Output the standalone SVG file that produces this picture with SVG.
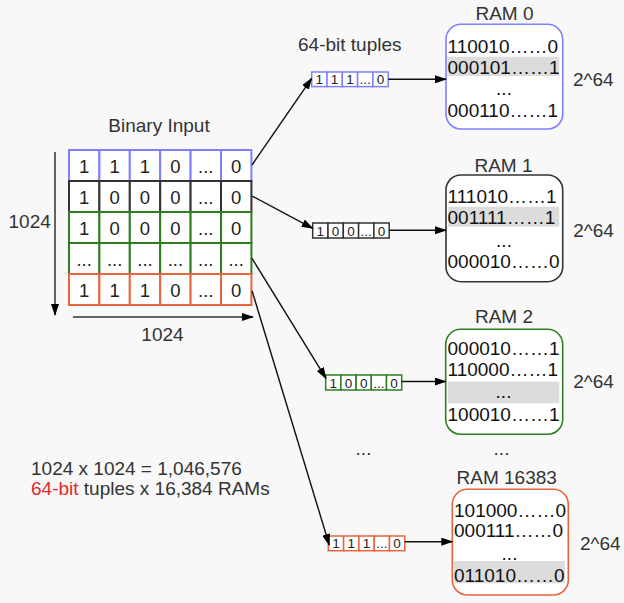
<svg xmlns="http://www.w3.org/2000/svg" width="624" height="603" viewBox="0 0 624 603">
<defs>
<style>
text{font-family:"Liberation Sans",Arial,sans-serif;fill:#222;stroke:none}
.lbl{font-size:19px;fill:#333}
.cell{font-size:18.5px;text-anchor:middle}
.tc{font-size:13.5px;text-anchor:middle}
.row{font-size:19px;fill:#111}
.ttl{font-size:19px;text-anchor:middle;fill:#333}
.hl{fill:#dcdcdc}
.ram{fill:#fff;stroke-width:1.6}
.gc{fill:#fff;stroke-width:2}
.tb{fill:#fff;stroke-width:1.5}
.blue{stroke:#7f7fff}
.dark{stroke:#333}
.green{stroke:#2e7d1f}
.orange{stroke:#e8643c}
.conn line{stroke:#111;stroke-width:1.4;fill:none}
.axis line{stroke:#333;stroke-width:1.5}
</style>
<marker id="ah" markerWidth="12" markerHeight="8" refX="11" refY="4" orient="auto" markerUnits="userSpaceOnUse">
<path d="M0,0 L12,4 L0,8 Z" fill="#000"/>
</marker>
</defs>
<rect width="624" height="603" fill="#f8f8f8"/>

<g id="binary-input">
<text class="lbl" x="159" y="131.5" text-anchor="middle" font-size="19.5">Binary Input</text>
<g class="blue">
<rect class="gc" x="69" y="150" width="30.4" height="31"/><rect class="gc" x="99.4" y="150" width="30.4" height="31"/><rect class="gc" x="129.8" y="150" width="30.4" height="31"/><rect class="gc" x="160.2" y="150" width="30.4" height="31"/><rect class="gc" x="190.6" y="150" width="30.4" height="31"/><rect class="gc" x="221" y="150" width="30.4" height="31"/>
</g>
<g class="dark">
<rect class="gc" x="69" y="181" width="30.4" height="31"/><rect class="gc" x="99.4" y="181" width="30.4" height="31"/><rect class="gc" x="129.8" y="181" width="30.4" height="31"/><rect class="gc" x="160.2" y="181" width="30.4" height="31"/><rect class="gc" x="190.6" y="181" width="30.4" height="31"/><rect class="gc" x="221" y="181" width="30.4" height="31"/>
</g>
<g class="green">
<rect class="gc" x="69" y="212" width="30.4" height="31"/><rect class="gc" x="99.4" y="212" width="30.4" height="31"/><rect class="gc" x="129.8" y="212" width="30.4" height="31"/><rect class="gc" x="160.2" y="212" width="30.4" height="31"/><rect class="gc" x="190.6" y="212" width="30.4" height="31"/><rect class="gc" x="221" y="212" width="30.4" height="31"/>
<rect class="gc" x="69" y="243" width="30.4" height="31"/><rect class="gc" x="99.4" y="243" width="30.4" height="31"/><rect class="gc" x="129.8" y="243" width="30.4" height="31"/><rect class="gc" x="160.2" y="243" width="30.4" height="31"/><rect class="gc" x="190.6" y="243" width="30.4" height="31"/><rect class="gc" x="221" y="243" width="30.4" height="31"/>
</g>
<g class="orange">
<rect class="gc" x="69" y="274" width="30.4" height="31"/><rect class="gc" x="99.4" y="274" width="30.4" height="31"/><rect class="gc" x="129.8" y="274" width="30.4" height="31"/><rect class="gc" x="160.2" y="274" width="30.4" height="31"/><rect class="gc" x="190.6" y="274" width="30.4" height="31"/><rect class="gc" x="221" y="274" width="30.4" height="31"/>
</g>
<g>
<text class="cell" x="84.2" y="173">1</text><text class="cell" x="114.6" y="173">1</text><text class="cell" x="145" y="173">1</text><text class="cell" x="175.4" y="173">0</text><text class="cell" x="205.8" y="173">...</text><text class="cell" x="236.2" y="173">0</text>
<text class="cell" x="84.2" y="204">1</text><text class="cell" x="114.6" y="204">0</text><text class="cell" x="145" y="204">0</text><text class="cell" x="175.4" y="204">0</text><text class="cell" x="205.8" y="204">...</text><text class="cell" x="236.2" y="204">0</text>
<text class="cell" x="84.2" y="235">1</text><text class="cell" x="114.6" y="235">0</text><text class="cell" x="145" y="235">0</text><text class="cell" x="175.4" y="235">0</text><text class="cell" x="205.8" y="235">...</text><text class="cell" x="236.2" y="235">0</text>
<text class="cell" x="84.2" y="266">...</text><text class="cell" x="114.6" y="266">...</text><text class="cell" x="145" y="266">...</text><text class="cell" x="175.4" y="266">...</text><text class="cell" x="205.8" y="266">...</text><text class="cell" x="236.2" y="266">...</text>
<text class="cell" x="84.2" y="297">1</text><text class="cell" x="114.6" y="297">1</text><text class="cell" x="145" y="297">1</text><text class="cell" x="175.4" y="297">0</text><text class="cell" x="205.8" y="297">...</text><text class="cell" x="236.2" y="297">0</text>
</g>
<g class="axis">
<line x1="55" y1="152" x2="55" y2="315" marker-end="url(#ah)"/>
<line x1="73" y1="317" x2="253" y2="317" marker-end="url(#ah)"/>
</g>
<text class="lbl" x="8.5" y="227.5" font-size="18.5">1024</text>
<text class="lbl" x="162.5" y="340.5" text-anchor="middle" font-size="18.5">1024</text>
</g>

<text class="lbl" x="298" y="50.5" font-size="18.2">64-bit tuples</text>

<g id="tuple-0" class="blue">
<rect class="tb" x="311.7" y="72" width="15.3" height="14.6"/><rect class="tb" x="327" y="72" width="15.3" height="14.6"/><rect class="tb" x="342.3" y="72" width="15.3" height="14.6"/><rect class="tb" x="357.6" y="72" width="15.3" height="14.6"/><rect class="tb" x="372.9" y="72" width="15.3" height="14.6"/>
<text class="tc" x="319.3" y="84.3">1</text><text class="tc" x="334.6" y="84.3">1</text><text class="tc" x="349.9" y="84.3">1</text><text class="tc" x="365.2" y="84.3">...</text><text class="tc" x="380.5" y="84.3">0</text>
</g>
<g id="tuple-1" class="dark">
<rect class="tb" x="312.7" y="223" width="15.3" height="15"/><rect class="tb" x="328" y="223" width="15.3" height="15"/><rect class="tb" x="343.3" y="223" width="15.3" height="15"/><rect class="tb" x="358.6" y="223" width="15.3" height="15"/><rect class="tb" x="373.9" y="223" width="15.3" height="15"/>
<text class="tc" x="320.3" y="235.6">1</text><text class="tc" x="335.6" y="235.6">0</text><text class="tc" x="350.9" y="235.6">0</text><text class="tc" x="366.2" y="235.6">...</text><text class="tc" x="381.5" y="235.6">0</text>
</g>
<g id="tuple-2" class="green">
<rect class="tb" x="325.7" y="375" width="15.2" height="15"/><rect class="tb" x="340.9" y="375" width="15.2" height="15"/><rect class="tb" x="356.1" y="375" width="15.2" height="15"/><rect class="tb" x="371.3" y="375" width="15.2" height="15"/><rect class="tb" x="386.5" y="375" width="15.2" height="15"/>
<text class="tc" x="333.3" y="387.6">1</text><text class="tc" x="348.5" y="387.6">0</text><text class="tc" x="363.7" y="387.6">0</text><text class="tc" x="378.9" y="387.6">...</text><text class="tc" x="394.1" y="387.6">0</text>
</g>
<g id="tuple-16383" class="orange">
<rect class="tb" x="328.3" y="536" width="15.3" height="14.7"/><rect class="tb" x="343.6" y="536" width="15.3" height="14.7"/><rect class="tb" x="358.9" y="536" width="15.3" height="14.7"/><rect class="tb" x="374.2" y="536" width="15.3" height="14.7"/><rect class="tb" x="389.5" y="536" width="15.3" height="14.7"/>
<text class="tc" x="335.9" y="548.4">1</text><text class="tc" x="351.2" y="548.4">1</text><text class="tc" x="366.5" y="548.4">1</text><text class="tc" x="381.8" y="548.4">...</text><text class="tc" x="397.1" y="548.4">0</text>
</g>

<g id="ram-0">
<text class="ttl" x="504.5" y="19.5">RAM 0</text>
<rect class="ram blue" x="446" y="24.3" width="116.7" height="104.7" rx="15"/>
<rect class="hl" x="447.3" y="56.7" width="112" height="19.3"/>
<text class="row" x="447.5" y="53.3">110010……0</text>
<text class="row" x="447.5" y="74">000101……1</text>
<text class="row" x="504" y="95" text-anchor="middle">...</text>
<text class="row" x="447.5" y="117.3">000110……1</text>
<text class="lbl" x="573" y="86">2^64</text>
</g>
<g id="ram-1">
<text class="ttl" x="503.5" y="171.7">RAM 1</text>
<rect class="ram dark" x="446" y="175" width="116.7" height="106.7" rx="15"/>
<rect class="hl" x="448.3" y="206.7" width="111" height="20"/>
<text class="row" x="447.5" y="203.3">111010……1</text>
<text class="row" x="447.5" y="224">001111……1</text>
<text class="row" x="504" y="246.5" text-anchor="middle">...</text>
<text class="row" x="447.5" y="268.3">000010……0</text>
<text class="lbl" x="573.3" y="237.3">2^64</text>
</g>
<g id="ram-2">
<text class="ttl" x="504" y="322.7">RAM 2</text>
<rect class="ram green" x="445.7" y="329.3" width="117" height="105" rx="15"/>
<rect class="hl" x="447.7" y="381.7" width="111.6" height="21.6"/>
<text class="row" x="447.5" y="355">000010……1</text>
<text class="row" x="447.5" y="376">110000……1</text>
<text class="row" x="503.5" y="398.3" text-anchor="middle">...</text>
<text class="row" x="447.5" y="420.7">100010……1</text>
<text class="lbl" x="573.3" y="388.3">2^64</text>
</g>
<g id="ram-16383">
<text class="ttl" x="506.7" y="484">RAM 16383</text>
<rect class="ram orange" x="452.3" y="489.3" width="116" height="105.7" rx="15"/>
<rect class="hl" x="454" y="561" width="111" height="22.3"/>
<text class="row" x="454" y="517.3">101000……0</text>
<text class="row" x="454" y="536.7">000111……0</text>
<text class="row" x="509.5" y="560" text-anchor="middle">...</text>
<text class="row" x="454" y="581.7">011010……0</text>
<text class="lbl" x="580" y="550">2^64</text>
</g>

<g class="conn">
<line x1="252" y1="165" x2="311.7" y2="78.3" marker-end="url(#ah)"/>
<line x1="252" y1="196" x2="312.7" y2="228.3" marker-end="url(#ah)"/>
<line x1="252" y1="258.3" x2="326" y2="378.3" marker-end="url(#ah)"/>
<line x1="252" y1="290.7" x2="329.3" y2="545" marker-end="url(#ah)"/>
<line x1="388.3" y1="79.3" x2="446" y2="79.3" marker-end="url(#ah)"/>
<line x1="389.2" y1="230.3" x2="446" y2="230.3" marker-end="url(#ah)"/>
<line x1="401.7" y1="381.5" x2="445.7" y2="381.5" marker-end="url(#ah)"/>
<line x1="404.8" y1="541.7" x2="452.3" y2="541.7" marker-end="url(#ah)"/>
</g>

<text class="lbl" x="363.5" y="455" text-anchor="middle">...</text>
<text class="lbl" x="501.5" y="455" text-anchor="middle">...</text>

<text class="lbl" x="31" y="475" font-size="19.8">1024 x 1024 = 1,046,576</text>
<text class="lbl" x="31" y="495" font-size="19.8"><tspan fill="#e8262a">64-bit</tspan> tuples x 16,384 RAMs</text>
</svg>
